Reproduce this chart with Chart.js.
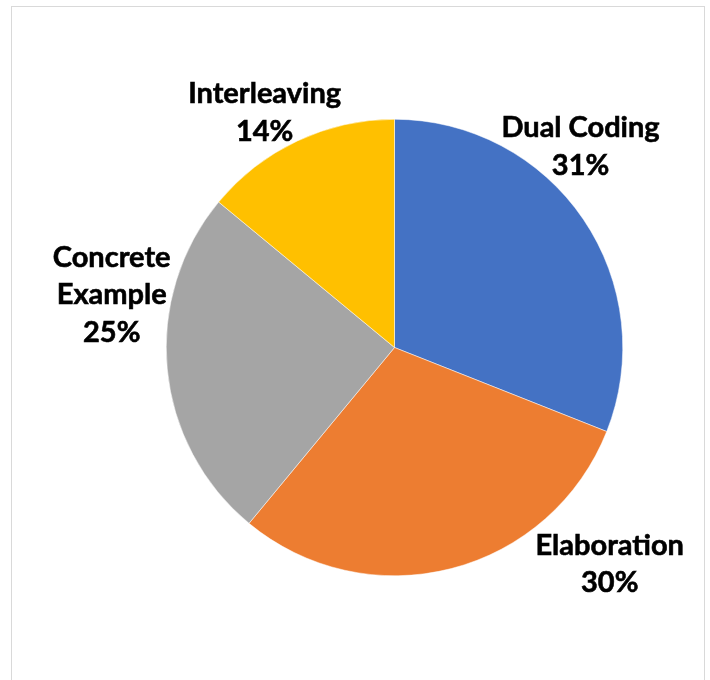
<!DOCTYPE html>
<html>
<head>
<meta charset="utf-8">
<title>Retrieval strategies share</title>
<script src="https://cdn.jsdelivr.net/npm/chart.js@4.4.1/dist/chart.umd.min.js"></script>
<style>
  html, body { margin: 0; padding: 0; background: #fff; overflow: hidden; }
  #wrap { position: relative; width: 710px; height: 680px; }
  #frame {
    position: absolute; left: 11px; top: 6px; width: 694px; height: 700px;
    border: 1px solid #d9d9d9; box-sizing: border-box;
  }
  canvas { position: absolute; left: 0; top: 0; }
</style>
</head>
<body>
<div id="wrap">
  <div id="frame"></div>
  <canvas id="chartPie" width="710" height="680"></canvas>
</div>
<script>
const LABELS = ['Dual Coding', 'Elaboration', 'Concrete Example', 'Interleaving'];
const SHARES = [31, 30, 25, 14];
const COLORS = ['#4472C4', '#ED7D31', '#A5A5A5', '#FFC000'];

// Label text lines, per slice
const LABEL_LINES = [
  ['Dual Coding'],
  ['Elaboration'],
  ['Concrete', 'Example'],
  ['Interleaving'],
];

// First-line baseline of each label, offset from pie centre in radius units
const LABEL_ANCHORS = [
  { dx: 0.815, dy: -0.921 },
  { dx: 0.943, dy: 0.908 },
  { dx: -1.239, dy: -0.354 },
  { dx: -0.569, dy: -1.070 },
];

const FONT = 'bold 29px Lato, "Liberation Sans", sans-serif';
const LINE_H = 37.5;

const outsideLabels = {
  id: 'outsideLabels',
  afterDraw(chart) {
    const arc = chart.getDatasetMeta(0).data[0];
    if (!arc) return;
    const cx = arc.x, cy = arc.y, r = arc.outerRadius;
    const ctx = chart.ctx;
    ctx.save();
    ctx.font = FONT;
    ctx.fillStyle = '#000';
    ctx.strokeStyle = '#000';
    ctx.lineWidth = 0.6;
    ctx.textAlign = 'center';
    ctx.textBaseline = 'alphabetic';
    SHARES.forEach((v, i) => {
      const a = LABEL_ANCHORS[i];
      const x = cx + a.dx * r;
      let y = cy + a.dy * r;
      const lines = [...LABEL_LINES[i], v + '%'];
      lines.forEach(line => {
        ctx.fillText(line, x, y);
        ctx.strokeText(line, x, y);
        y += LINE_H;
      });
    });
    ctx.restore();
  }
};

new Chart(document.getElementById('chartPie').getContext('2d'), {
  type: 'pie',
  data: {
    labels: LABELS,
    datasets: [{
      data: SHARES,
      backgroundColor: COLORS,
      borderColor: '#ffffff',
      borderWidth: 0.5,
    }]
  },
  options: {
    responsive: false,
    animation: false,
    layout: { padding: { left: 166, right: 87, top: 119, bottom: 104 } },
    plugins: {
      legend: { display: false },
      tooltip: { enabled: false },
    }
  },
  plugins: [outsideLabels]
});
</script>
</body>
</html>
